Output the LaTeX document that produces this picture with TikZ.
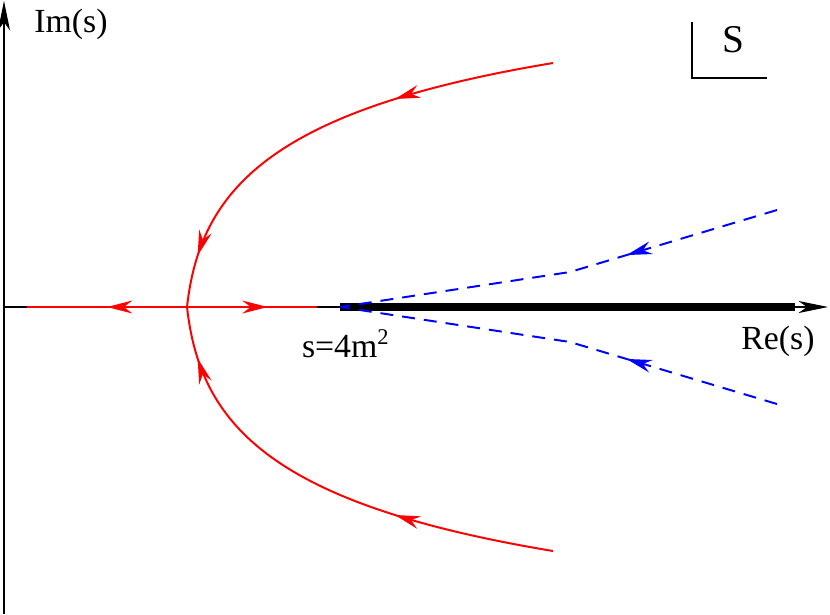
\documentclass[tikz,border=0pt]{standalone}
\usepackage{fontspec}
\setmainfont{Liberation Serif}
\usetikzlibrary{arrows.meta,decorations.markings}
\tikzset{
    x=0.0125cm, y=-0.0125cm,
    axis/.style={line width=0.4pt, -{Stealth[length=10.5pt,width=4.3pt,inset=3pt]}},
    cut/.style={line width=2.5pt},
    traj/.style={red, line width=0.7pt},
    dashtraj/.style={blue, line width=0.7pt, dash pattern=on 4.6pt off 3.2pt},
    tipat/.style={postaction={decorate, decoration={markings,
        mark=at position #1 with {\arrow{Stealth[length=9pt,width=4.6pt,inset=3pt]}}}}},
    lbl/.style={font=\fontsize{12}{14}\selectfont, inner sep=0pt}
}
\begin{document}
\begin{tikzpicture}
    \useasboundingbox (0,0) rectangle (830,614);
    % axes
    \coordinate (o) at (4,307);
    \coordinate (bot) at (4,614);
    \coordinate (top) at (4,1);
    \coordinate (rend) at (828,307);
    \draw[axis] (bot) -- (top);
    \draw[axis] (o) -- (rend);
    \node[lbl] (im) at (71,24) {Im(s)};
    \node[lbl] (re) at (778,341) {Re(s)};

    % branch cut
    \coordinate (c) at (340,307);
    \coordinate (ce) at (795,307);
    \draw[cut] (c) -- (ce);
    \node[lbl, anchor=base] (thr) at (346,357) {s=4m\textsuperscript{2}};

    % red trajectories
    \coordinate (v) at (187,307);
    \coordinate (l) at (27,307);
    \coordinate (r) at (317,307);
    \coordinate (ue) at (553,63);
    \coordinate (le) at (553,551);
    \draw[traj, tipat=0.5] (v) -- (l);
    \draw[traj, tipat=0.62] (v) -- (r);
    \draw[traj, tipat=0.34, tipat=0.89] (ue) .. controls (270,110) and (200,190) .. (v);
    \draw[traj, tipat=0.34, tipat=0.89] (le) .. controls (270,504) and (200,424) .. (v);

    % blue trajectories
    \coordinate (bu) at (777,210);
    \coordinate (ku) at (570,272);
    \coordinate (bl) at (777,404);
    \coordinate (kl) at (570,342);
    \draw[dashtraj, tipat=0.35] (bu) -- (ku) -- (c);
    \draw[dashtraj, tipat=0.35] (bl) -- (kl) -- (c);

    % sheet label
    \coordinate (sa) at (692,22);
    \coordinate (sb) at (767,78);
    \draw[line width=0.5pt] (sa) |- (sb);
    \node[lbl, font=\fontsize{14}{16}\selectfont] (sheet) at (733,40) {S};
\end{tikzpicture}
\end{document}
